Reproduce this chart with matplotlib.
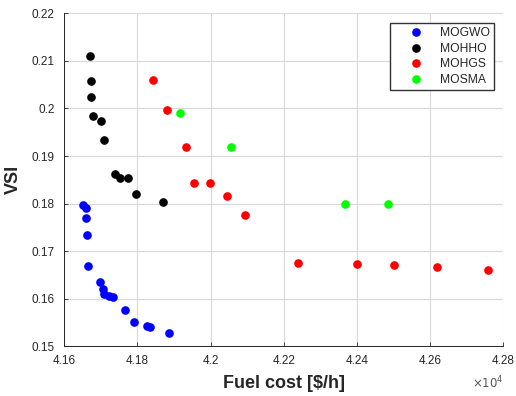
import matplotlib.pyplot as plt
from matplotlib.ticker import FuncFormatter

plt.rcParams['font.family'] = ['Liberation Sans', 'DejaVu Sans']

# Pareto fronts: fuel cost [$/h], VSI
mogwo_cost = [41651, 41658, 41659, 41662, 41666, 41698, 41707, 41709, 41722, 41734,
              41767, 41791, 41827, 41833, 41887]
mogwo_vsi = [0.1796, 0.1790, 0.1769, 0.1733, 0.1668, 0.1635, 0.1621, 0.1609, 0.1606, 0.1604,
             0.1577, 0.1551, 0.1543, 0.1540, 0.1529]

mohho_cost = [41670, 41672, 41672, 41678, 41700, 41709, 41739, 41753, 41775, 41795, 41871]
mohho_vsi = [0.2111, 0.2057, 0.2025, 0.1985, 0.1974, 0.1934, 0.1862, 0.1853, 0.1853, 0.1820, 0.1803]

mohgs_cost = [41843, 41881, 41933, 41955, 41997, 42045, 42095, 42240, 42401, 42501, 42618, 42758]
mohgs_vsi = [0.2060, 0.1997, 0.1920, 0.1844, 0.1844, 0.1815, 0.1777, 0.1676, 0.1673, 0.1671,
             0.1666, 0.1661]

mosma_cost = [41915, 42057, 42366, 42486]
mosma_vsi = [0.1990, 0.1920, 0.1800, 0.1800]

x_ticks = [41600, 41800, 42000, 42200, 42400, 42600, 42800]
y_ticks = [0.15, 0.16, 0.17, 0.18, 0.19, 0.2, 0.21, 0.22]

txt = '#262626'

fig = plt.figure(figsize=(5.16, 3.96), dpi=100)
ax = fig.add_axes([0.1246, 0.1255, 0.8508, 0.8409])

ax.plot(mogwo_cost, mogwo_vsi, 'o', color='#0000ff', ms=5.2, label='MOGWO')
ax.plot(mohho_cost, mohho_vsi, 'o', color='#000000', ms=5.2, label='MOHHO')
ax.plot(mohgs_cost, mohgs_vsi, 'o', color='#ff0000', ms=5.2, label='MOHGS')
ax.plot(mosma_cost, mosma_vsi, 'o', color='#00ff00', ms=5.2, label='MOSMA')

ax.set_xlim(41600, 42800)
ax.set_ylim(0.15, 0.22)
ax.set_xticks(x_ticks)
ax.set_yticks(y_ticks)
ax.xaxis.set_major_formatter(FuncFormatter(lambda v, p: ('%.2f' % (v / 1e4)).rstrip('0').rstrip('.')))
ax.yaxis.set_major_formatter(FuncFormatter(lambda v, p: ('%.2f' % v).rstrip('0').rstrip('.')))
ax.tick_params(direction='in', length=3, labelsize=8.5, colors=txt, width=0.6)
ax.tick_params(axis='y', pad=7)
ax.tick_params(axis='x', pad=6)

ax.grid(True, color='#d9d9d9', lw=0.8)
ax.set_axisbelow(True)
for s in ['top', 'right']:
    ax.spines[s].set_visible(False)
for s in ['left', 'bottom']:
    ax.spines[s].set_color(txt)
    ax.spines[s].set_linewidth(0.7)

ax.set_xlabel(r'Fuel cost [\$/h]', fontsize=13, fontweight='bold', color=txt, labelpad=6)
ax.set_ylabel('VSI', fontsize=13, fontweight='bold', color=txt, labelpad=7)
fig.text(0.914, 0.02, r'$\times10^4$', fontsize=8.5, color='#555555', ha='left')

leg = ax.legend(loc='upper right', bbox_to_anchor=(0.979, 0.971), fontsize=8.7,
                fancybox=False, framealpha=1, edgecolor='#333333', handletextpad=0.2,
                borderpad=0.35, labelspacing=0.3, handlelength=3.6, borderaxespad=0)
leg.get_frame().set_linewidth(1.0)
for t in leg.get_texts():
    t.set_color(txt)

fig.savefig('out.png', dpi=100)
